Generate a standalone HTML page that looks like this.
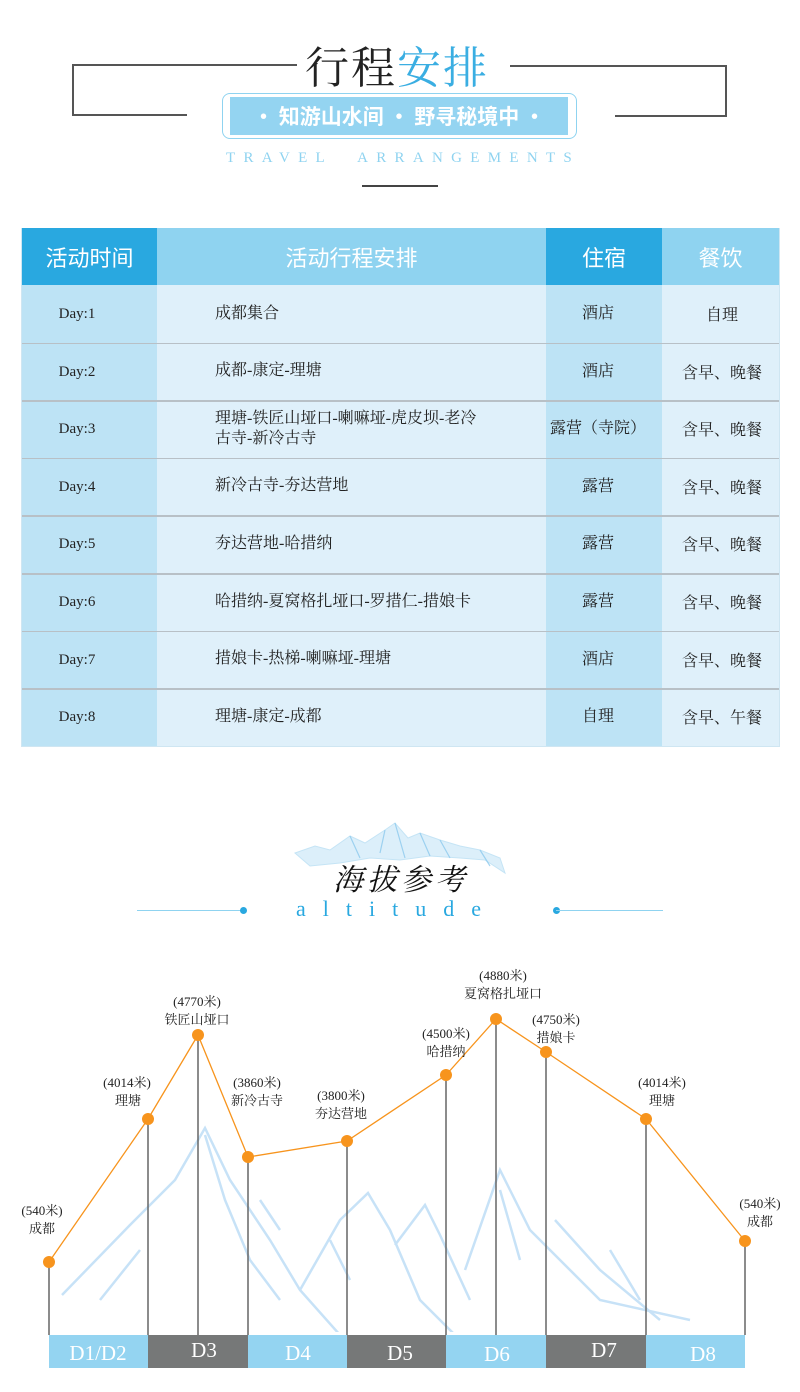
<!DOCTYPE html>
<html><head><meta charset="utf-8"><style>
body{margin:0;width:800px;height:1392px;background:#fff;position:relative;overflow:hidden;font-family:"Liberation Serif","Noto Serif CJK SC","Noto Sans CJK SC",serif}
.a{position:absolute}
.cell{position:absolute;display:flex;align-items:center;box-sizing:border-box;color:#222;font-size:16px}
</style></head><body>
<!-- header -->
<div class="a" style="left:72px;top:64px;width:225px;height:2px;background:#555"></div>
<div class="a" style="left:72px;top:64px;width:2px;height:52px;background:#555"></div>
<div class="a" style="left:72px;top:114px;width:115px;height:2px;background:#555"></div>
<div class="a" style="left:510px;top:65px;width:217px;height:2px;background:#555"></div>
<div class="a" style="left:725px;top:65px;width:2px;height:52px;background:#555"></div>
<div class="a" style="left:615px;top:115px;width:112px;height:2px;background:#555"></div>
<div class="a" style="left:305px;top:32px;font-size:44px;font-family:'Noto Serif CJK SC',serif;letter-spacing:2px"><span style="color:#222">行程</span><span style="color:#3aaee2">安排</span></div>
<div class="a" style="left:222px;top:93px;width:355px;height:46px;border:1.5px solid #8fd3f0;border-radius:8px;box-sizing:border-box"></div>
<div class="a" style="left:230px;top:97px;width:338px;height:38px;background:#94d4f1"></div>
<div class="a" style="left:230px;top:97px;width:338px;height:38px;line-height:38px;text-align:center;color:#fff;font-size:21px;font-weight:bold;font-family:'Noto Sans CJK SC',sans-serif">• 知游山水间 • 野寻秘境中 •</div>
<div class="a" style="left:226px;top:150px;width:350px;text-align:left;color:#8fd3f0;font-size:15px;letter-spacing:8.3px;font-family:'Liberation Serif',serif">TRAVEL&nbsp;&nbsp;ARRANGEMENTS</div>
<div class="a" style="left:362px;top:185px;width:76px;height:1.5px;background:#444"></div>

<!-- table -->
<div class="a" style="left:21px;top:228px;width:759px;height:519px;border:1px solid #cfe6f2;box-sizing:border-box"></div>
<div class="cell" style="left:22px;top:228px;width:135px;height:57px;background:#29a8e0;color:#fff;font-size:22px;justify-content:center;font-family:'Noto Sans CJK SC',sans-serif">活动时间</div>
<div class="cell" style="left:157px;top:228px;width:389px;height:57px;background:#8fd3f0;color:#fff;font-size:22px;justify-content:center;font-family:'Noto Sans CJK SC',sans-serif">活动行程安排</div>
<div class="cell" style="left:546px;top:228px;width:116px;height:57px;background:#29a8e0;color:#fff;font-size:22px;justify-content:center;font-family:'Noto Sans CJK SC',sans-serif">住宿</div>
<div class="cell" style="left:662px;top:228px;width:117px;height:57px;background:#8fd3f0;color:#fff;font-size:22px;justify-content:center;font-family:'Noto Sans CJK SC',sans-serif">餐饮</div>
<div class="a" style="left:22px;top:285px;width:135px;height:461px;background:#bde3f5"></div>
<div class="a" style="left:157px;top:285px;width:389px;height:461px;background:#dff0fa"></div>
<div class="a" style="left:546px;top:285px;width:116px;height:461px;background:#bde3f5"></div>
<div class="a" style="left:662px;top:285px;width:117px;height:461px;background:#dff0fa"></div>
<div id="rows"></div>

<!-- altitude header -->
<svg class="a" style="left:290px;top:818px" width="220" height="60" viewBox="0 0 220 60">
<g fill="#c6e6f7" stroke="#9fd3f0" stroke-width="1">
<path d="M5 35 L25 28 L40 32 L60 18 L75 25 L95 12 L105 5 L118 20 L130 15 L150 22 L170 28 L190 32 L210 40 L215 55 L195 42 L170 40 L140 38 L110 42 L80 40 L50 45 L20 48 Z" opacity=".6"/>
</g>
<g fill="none" stroke="#8cc9ee" stroke-width="1.2" opacity=".8">
<path d="M60 18 L70 40 M95 12 L90 35 M105 5 L115 40 M130 15 L140 38 M150 22 L160 40 M190 32 L200 48"/>
</g></svg>
<div class="a" style="left:333px;top:855px;font-size:30px;color:#111;letter-spacing:4px;font-family:'Noto Serif CJK SC',serif;font-style:italic">海拔参考</div>
<div class="a" style="left:137px;top:910px;width:108px;height:1px;background:#8fd3f0"></div>
<div class="a" style="left:240px;top:907px;width:7px;height:7px;border-radius:50%;background:#29a8e0"></div>
<div class="a" style="left:553px;top:907px;width:7px;height:7px;border-radius:50%;background:#29a8e0"></div>
<div class="a" style="left:556px;top:910px;width:107px;height:1px;background:#8fd3f0"></div>
<div class="a" style="left:296px;top:896px;font-size:22px;color:#29a8e0;letter-spacing:17px;font-family:'Liberation Serif',serif">altitude</div>

<svg class="a" style="left:0;top:0" width="800" height="1392" viewBox="0 0 800 1392">
<defs><clipPath id="c"><rect x="0" y="1100" width="800" height="232"/></clipPath></defs>
<g fill="none" stroke="#c7e2f7" stroke-width="2.5" clip-path="url(#c)">
<path d="M62 1295 L130 1225 L175 1180 L205 1128 L230 1180 L270 1240 L300 1290 L380 1380"/>
<path d="M205 1135 L225 1200 L250 1260 L280 1300"/>
<path d="M300 1290 L340 1220 L368 1193 L390 1230 L420 1300 L460 1340"/>
<path d="M395 1245 L425 1205 L440 1235 L470 1300"/>
<path d="M465 1270 L500 1170 L530 1230 L600 1300 L690 1320"/>
<path d="M555 1220 L600 1270 L660 1320"/>
<path d="M100 1300 L140 1250 M260 1200 L280 1230 M330 1240 L350 1280 M500 1190 L520 1260 M610 1250 L640 1300"/>
</g>
<g stroke="#666" stroke-width="1.5">
<line x1="49" y1="1262" x2="49" y2="1335"/><line x1="148" y1="1119" x2="148" y2="1335"/>
<line x1="198" y1="1035" x2="198" y2="1335"/><line x1="248" y1="1157" x2="248" y2="1335"/>
<line x1="347" y1="1141" x2="347" y2="1335"/><line x1="446" y1="1075" x2="446" y2="1335"/>
<line x1="496" y1="1019" x2="496" y2="1335"/><line x1="546" y1="1052" x2="546" y2="1335"/>
<line x1="646" y1="1119" x2="646" y2="1335"/><line x1="745" y1="1241" x2="745" y2="1335"/>
</g>
<polyline fill="none" stroke="#f7941d" stroke-width="1.3" points="49,1262 148,1119 198,1035 248,1157 347,1141 446,1075 496,1019 546,1052 646,1119 745,1241"/>
<g fill="#f7941d">
<circle cx="49" cy="1262" r="6"/><circle cx="148" cy="1119" r="6"/><circle cx="198" cy="1035" r="6"/><circle cx="248" cy="1157" r="6"/><circle cx="347" cy="1141" r="6"/><circle cx="446" cy="1075" r="6"/><circle cx="496" cy="1019" r="6"/><circle cx="546" cy="1052" r="6"/><circle cx="646" cy="1119" r="6"/><circle cx="745" cy="1241" r="6"/>
</g>
<g>
<rect x="49" y="1335" width="99" height="33" fill="#94d4f1"/><rect x="148" y="1335" width="100" height="33" fill="#767878"/>
<rect x="248" y="1335" width="99" height="33" fill="#94d4f1"/><rect x="347" y="1335" width="99" height="33" fill="#767878"/>
<rect x="446" y="1335" width="100" height="33" fill="#94d4f1"/><rect x="546" y="1335" width="100" height="33" fill="#767878"/>
<rect x="646" y="1335" width="99" height="33" fill="#94d4f1"/>
</g>
<g fill="#fff" font-family="Liberation Serif,serif" font-size="21" text-anchor="middle">
<text x="98" y="1360">D1/D2</text><text x="204" y="1357">D3</text><text x="298" y="1360">D4</text><text x="400" y="1360">D5</text><text x="497" y="1361">D6</text><text x="604" y="1357">D7</text><text x="703" y="1361">D8</text>
</g>
<g fill="#222" font-family="Liberation Serif,Noto Serif CJK SC,serif" font-size="13" text-anchor="middle">
<text x="42" y="1215">(540米)</text><text x="42" y="1233">成都</text>
<text x="127" y="1087">(4014米)</text><text x="128" y="1105">理塘</text>
<text x="197" y="1006">(4770米)</text><text x="197" y="1024">铁匠山垭口</text>
<text x="257" y="1087">(3860米)</text><text x="257" y="1105">新冷古寺</text>
<text x="341" y="1100">(3800米)</text><text x="341" y="1118">夯达营地</text>
<text x="446" y="1038">(4500米)</text><text x="446" y="1056">哈措纳</text>
<text x="503" y="980">(4880米)</text><text x="503" y="998">夏窝格扎垭口</text>
<text x="556" y="1024">(4750米)</text><text x="556" y="1042">措娘卡</text>
<text x="662" y="1087">(4014米)</text><text x="662" y="1105">理塘</text>
<text x="760" y="1208">(540米)</text><text x="760" y="1226">成都</text>
</g>
</svg>
<script>
var d=[["Day:1","成都集合","酒店","自理"],["Day:2","成都-康定-理塘","酒店","含早、晚餐"],["Day:3","理塘-铁匠山垭口-喇嘛垭-虎皮坝-老冷<br>古寺-新冷古寺","露营（寺院）","含早、晚餐"],["Day:4","新冷古寺-夯达营地","露营","含早、晚餐"],["Day:5","夯达营地-哈措纳","露营","含早、晚餐"],["Day:6","哈措纳-夏窝格扎垭口-罗措仁-措娘卡","露营","含早、晚餐"],["Day:7","措娘卡-热梯-喇嘛垭-理塘","酒店","含早、晚餐"],["Day:8","理塘-康定-成都","自理","含早、午餐"]];
var h="",y=285;
for(var i=0;i<8;i++){var t=y+i*57.6;
if(i>0)h+='<div class="a" style="left:22px;top:'+t+'px;width:757px;height:1.5px;background:#b8c0c6"></div>';
h+='<div class="cell" style="left:22px;top:'+(t+2)+'px;width:110px;height:55px;justify-content:center;font-size:15px">'+d[i][0]+'</div>';
h+='<div class="cell" style="left:215px;top:'+t+'px;width:320px;height:57px;line-height:20px">'+d[i][1]+'</div>';
h+='<div class="cell" style="left:546px;top:'+(t-2)+'px;width:104px;height:57px;justify-content:center">'+d[i][2]+'</div>';
h+='<div class="cell" style="left:662px;top:'+t+'px;width:120px;height:57px;justify-content:center">'+d[i][3]+'</div>';}
document.getElementById("rows").innerHTML=h;
</script>
</body></html>
